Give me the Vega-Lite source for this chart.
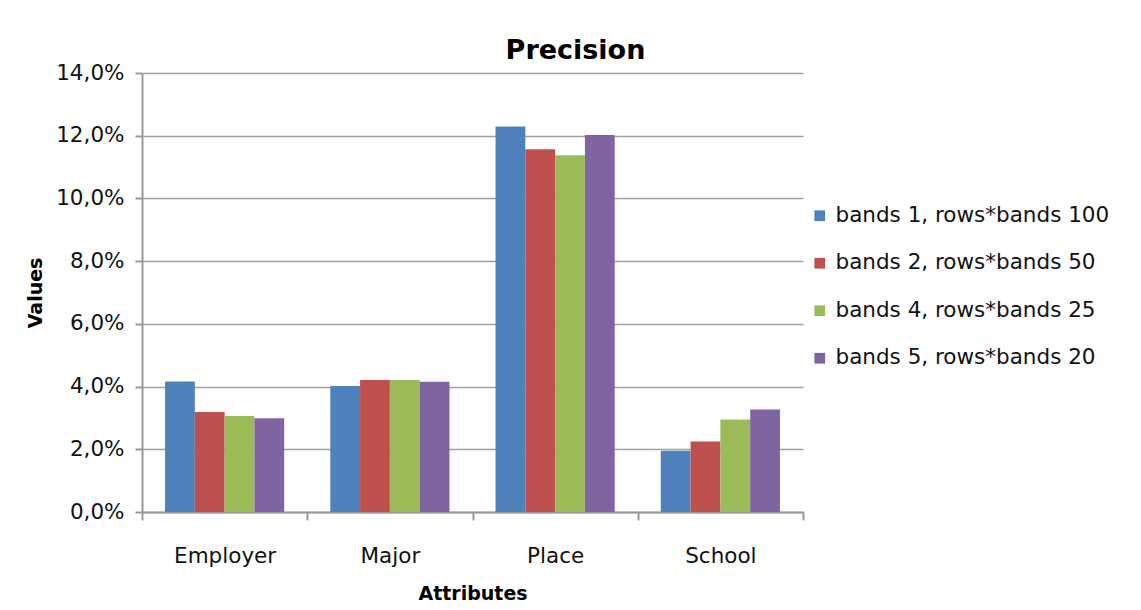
{
  "$schema": "https://vega.github.io/schema/vega-lite/v6.json",
  "autosize": {"type": "none"},
  "padding": {"left": 142, "top": 73, "right": 338, "bottom": 98},
  "width": 661,
  "height": 439,
  "background": "#ffffff",
  "title": {
    "text": "Precision",
    "anchor": "middle",
    "frame": "group",
    "dx": 103,
    "dy": 35,
    "offset": 11,
    "baseline": "alphabetic",
    "font": "DejaVu Sans",
    "fontSize": 27,
    "fontWeight": "bold",
    "color": "#000000"
  },
  "data": {
    "values": [
      {"attribute": "Employer", "series": "bands 1, rows*bands 100", "value": 0.0416},
      {"attribute": "Employer", "series": "bands 2, rows*bands 50", "value": 0.0319},
      {"attribute": "Employer", "series": "bands 4, rows*bands 25", "value": 0.0306},
      {"attribute": "Employer", "series": "bands 5, rows*bands 20", "value": 0.0299},
      {"attribute": "Major", "series": "bands 1, rows*bands 100", "value": 0.0402},
      {"attribute": "Major", "series": "bands 2, rows*bands 50", "value": 0.0421},
      {"attribute": "Major", "series": "bands 4, rows*bands 25", "value": 0.0421},
      {"attribute": "Major", "series": "bands 5, rows*bands 20", "value": 0.0415},
      {"attribute": "Place", "series": "bands 1, rows*bands 100", "value": 0.1229},
      {"attribute": "Place", "series": "bands 2, rows*bands 50", "value": 0.1157},
      {"attribute": "Place", "series": "bands 4, rows*bands 25", "value": 0.1138},
      {"attribute": "Place", "series": "bands 5, rows*bands 20", "value": 0.1202},
      {"attribute": "School", "series": "bands 1, rows*bands 100", "value": 0.0195},
      {"attribute": "School", "series": "bands 2, rows*bands 50", "value": 0.0225},
      {"attribute": "School", "series": "bands 4, rows*bands 25", "value": 0.0295},
      {"attribute": "School", "series": "bands 5, rows*bands 20", "value": 0.0327}
    ]
  },
  "mark": {"type": "bar"},
  "encoding": {
    "x": {
      "field": "attribute",
      "type": "nominal",
      "sort": ["Employer", "Major", "Place", "School"],
      "scale": {"paddingInner": 0, "paddingOuter": 0},
      "axis": {
        "title": "Attributes",
        "labelAngle": 0,
        "tickBand": "extent",
        "tickSize": 8,
        "labelPadding": 25,
        "titlePadding": 18,
        "grid": false
      }
    },
    "xOffset": {
      "field": "series",
      "type": "nominal",
      "sort": ["bands 1, rows*bands 100", "bands 2, rows*bands 50", "bands 4, rows*bands 25", "bands 5, rows*bands 20"],
      "scale": {"paddingInner": 0, "paddingOuter": 0.773}
    },
    "y": {
      "field": "value",
      "type": "quantitative",
      "scale": {"domain": [0, 0.14], "nice": false, "zero": true},
      "axis": {
        "title": "Values",
        "values": [0, 0.02, 0.04, 0.06, 0.08, 0.1, 0.12, 0.14],
        "labelExpr": "replace(format(datum.value, '.1%'), '.', ',')",
        "tickSize": 7,
        "labelPadding": 11,
        "titlePadding": 10,
        "grid": true
      }
    },
    "color": {
      "field": "series",
      "type": "nominal",
      "scale": {
        "domain": ["bands 1, rows*bands 100", "bands 2, rows*bands 50", "bands 4, rows*bands 25", "bands 5, rows*bands 20"],
        "range": ["#4f81bd", "#c0504d", "#9bbb59", "#8064a2"]
      },
      "legend": {
        "title": null,
        "orient": "none",
        "legendX": 667,
        "legendY": 132,
        "symbolType": "square",
        "symbolSize": 115,
        "symbolStrokeWidth": 0,
        "labelFont": "DejaVu Sans",
        "labelFontSize": 21.5,
        "labelColor": "#111111",
        "labelOffset": 5,
        "rowPadding": 24.5,
        "labelLimit": 400
      }
    }
  },
  "config": {
    "view": {"stroke": null},
    "axis": {
      "labelFont": "DejaVu Sans",
      "labelFontSize": 21.5,
      "labelColor": "#111111",
      "titleFont": "DejaVu Sans",
      "titleFontSize": 19,
      "titleFontWeight": "bold",
      "titleColor": "#000000",
      "domainColor": "#999999",
      "domainWidth": 2,
      "tickColor": "#999999",
      "tickWidth": 2,
      "gridColor": "#a0a0a0",
      "gridWidth": 1.5
    }
  }
}
